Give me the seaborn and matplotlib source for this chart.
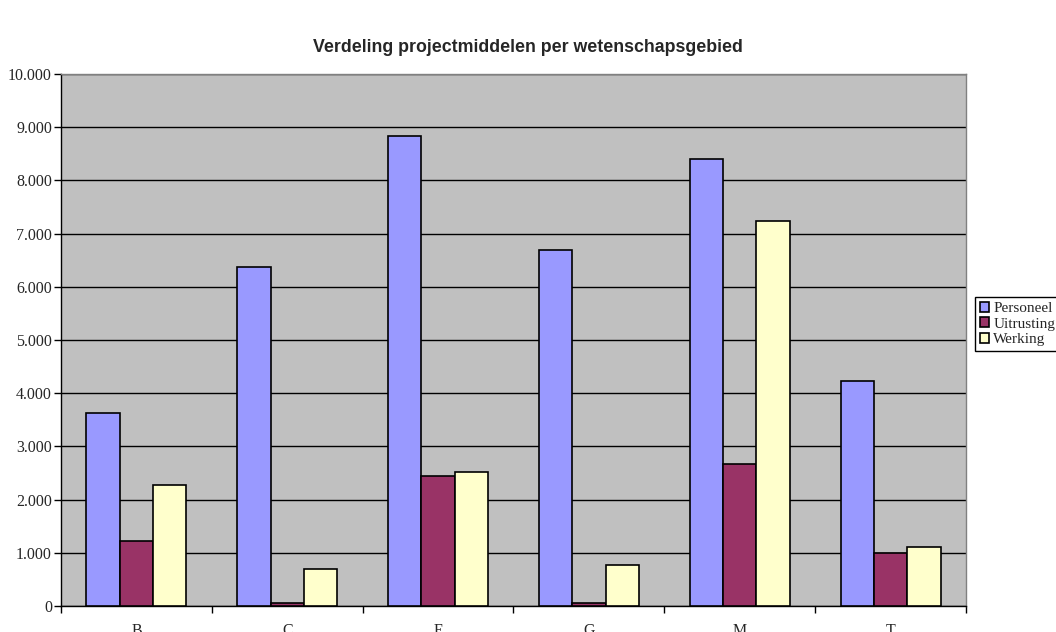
import numpy as np
import pandas as pd
import matplotlib
matplotlib.use("Agg")
import matplotlib.pyplot as plt
import seaborn as sns
from matplotlib.ticker import FuncFormatter, FixedLocator

gebieden = ["B", "C", "E", "G", "M", "T"]
personeel = [3630, 6380, 8830, 6690, 8400, 4230]
uitrusting = [1215, 50, 2440, 50, 2670, 1000]
werking = [2280, 700, 2520, 770, 7240, 1100]
reeksen = ["Personeel", "Uitrusting", "Werking"]
kleuren = ["#9999FF", "#993366", "#FFFFCC"]

df = pd.DataFrame({"Gebied": gebieden, "Personeel": personeel,
                   "Uitrusting": uitrusting, "Werking": werking})
df = df.melt(id_vars="Gebied", var_name="Soort", value_name="Bedrag")

sns.set_style("white")
plt.rcParams["font.family"] = ["Liberation Serif", "DejaVu Serif"]

fig = plt.figure(figsize=(10.56, 6.32), dpi=100)
ax = fig.add_axes([61/1056, 26/632, 905/1056, 532/632])
ax.set_facecolor("#C0C0C0")

sns.barplot(data=df, x="Gebied", y="Bedrag", hue="Soort", hue_order=reeksen,
            palette=kleuren, width=0.663, gap=0, saturation=1,
            edgecolor="black", linewidth=1.2, ax=ax, zorder=3)

ax.set_ylim(0, 10000)
ax.set_xlim(-0.5, 5.5)
ax.set_yticks(np.arange(0, 10001, 1000))
ax.yaxis.set_major_formatter(FuncFormatter(lambda v, p: f"{int(v):,}".replace(",", ".")))
ax.grid(axis="y", color="black", linewidth=1, zorder=1)
ax.set_axisbelow(True)
ax.tick_params(axis="y", direction="out", length=5, width=1, color="black",
               labelsize=11.5, pad=1.5, left=True)
ax.xaxis.set_minor_locator(FixedLocator(np.arange(-0.5, 6, 1)))
ax.tick_params(axis="x", which="major", length=0, labelsize=11.5, pad=12)
ax.tick_params(axis="x", which="minor", direction="out", length=5, width=1,
               color="black", bottom=True)
ax.set_xlabel("")
ax.set_ylabel("")

for s in ["left", "bottom"]:
    ax.spines[s].set_color("black")
    ax.spines[s].set_linewidth(1)
for s in ["top", "right"]:
    ax.spines[s].set_color("#808080")
    ax.spines[s].set_linewidth(1)

fig.text(0.5, 1 - 47/632, "Verdeling projectmiddelen per wetenschapsgebied",
         ha="center", va="center", fontsize=12.8, fontweight="bold",
         family="Liberation Sans")

handles, labels = ax.get_legend_handles_labels()
ax.legend(handles, labels, loc="center left",
          bbox_to_anchor=(975/1056, 1 - 324/632), bbox_transform=fig.transFigure,
          frameon=True, fancybox=False, edgecolor="black", framealpha=1,
          fontsize=11, handlelength=0.6, handleheight=0.6, handletextpad=0.3,
          borderpad=0.3, labelspacing=0.15, borderaxespad=0)

fig.savefig("out.png", dpi=100)
